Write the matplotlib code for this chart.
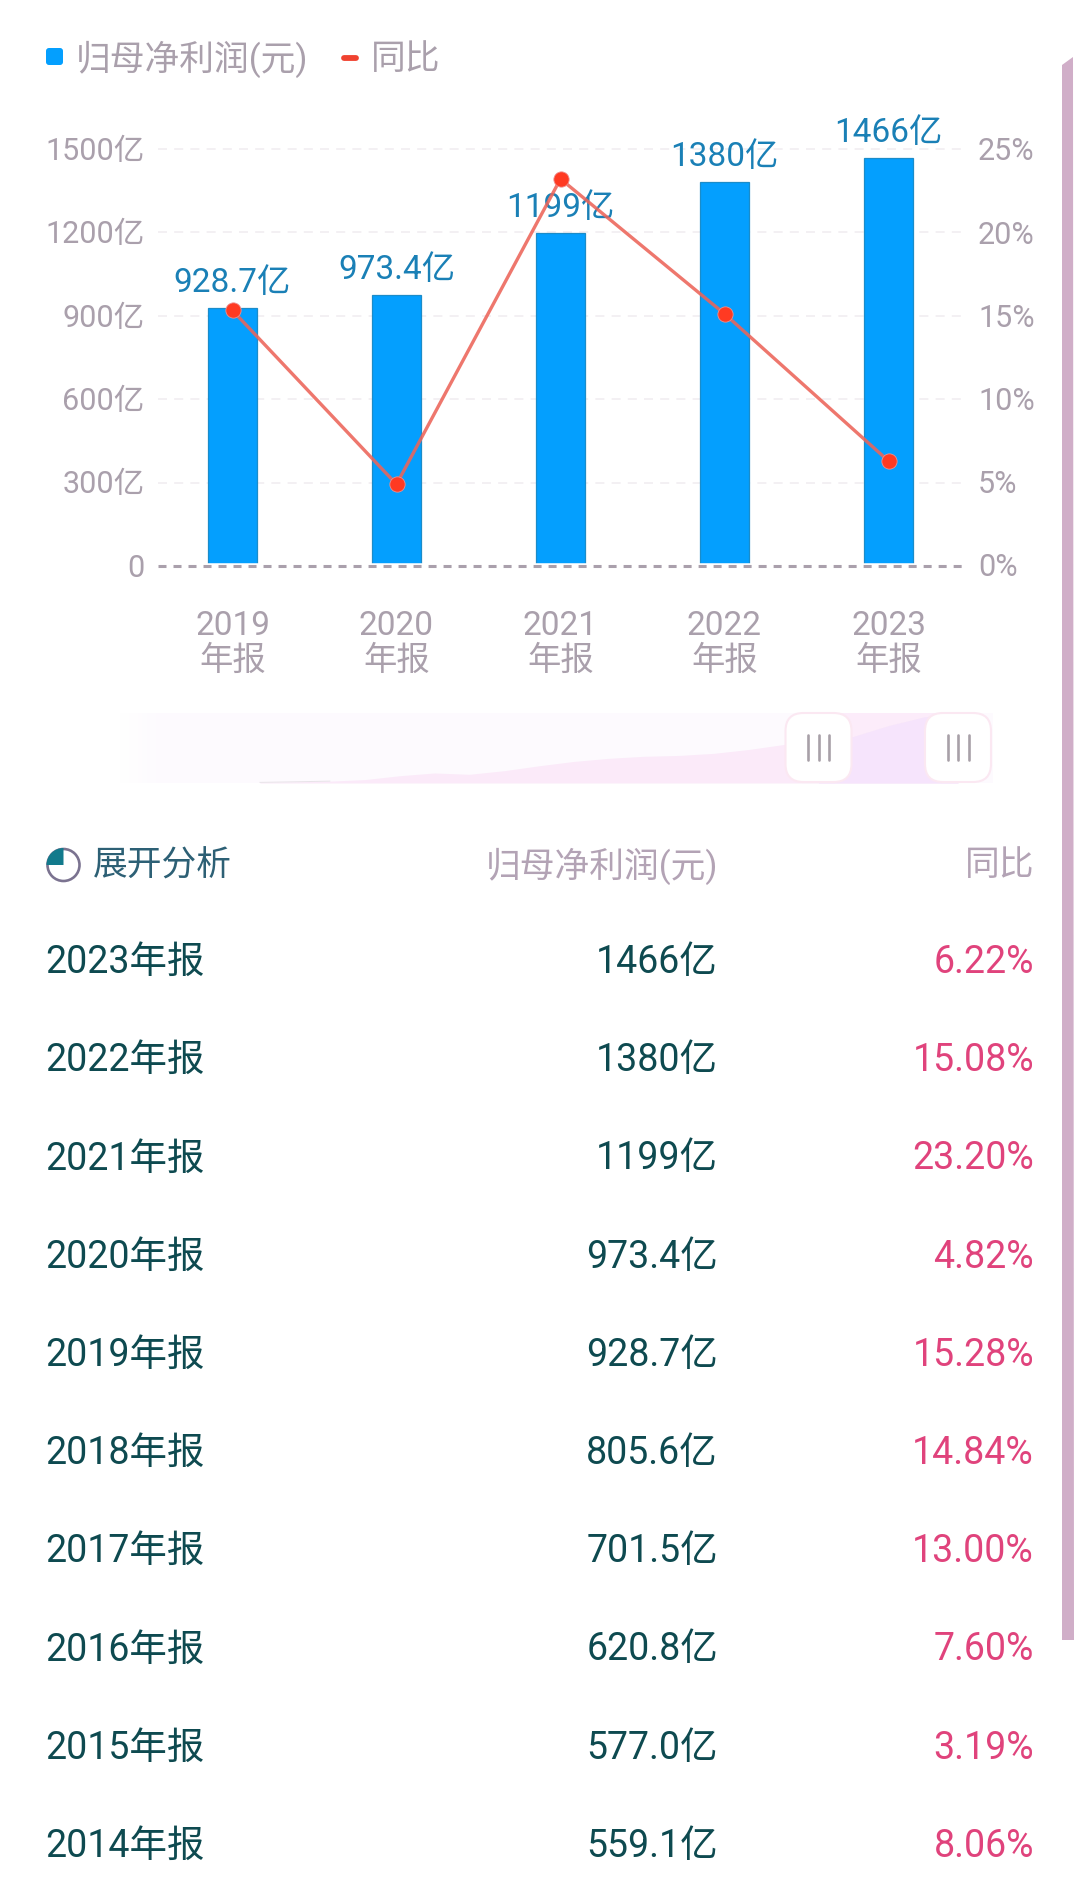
import numpy as np
import matplotlib
matplotlib.use("Agg")
import matplotlib.pyplot as plt
from matplotlib.patches import FancyBboxPatch, Polygon, Wedge, Circle
from matplotlib.transforms import ScaledTranslation

plt.rcParams['font.family'] = ['Roboto', 'Noto Sans CJK SC', 'DejaVu Sans']

# chart data
chart_years = ['2019', '2020', '2021', '2022', '2023']
profit = [928.7, 973.4, 1199, 1380, 1466]
profit_labels = ['928.7亿', '973.4亿', '1199亿', '1380亿', '1466亿']
yoy = [15.28, 4.82, 23.20, 15.08, 6.22]

left_ticks = [0, 300, 600, 900, 1200, 1500]
left_tick_labels = ['0', '300亿', '600亿', '900亿', '1200亿', '1500亿']
right_ticks = [0, 5, 10, 15, 20, 25]
right_tick_labels = ['0%', '5%', '10%', '15%', '20%', '25%']

# table data
table_years = ['2023年报', '2022年报', '2021年报', '2020年报', '2019年报',
               '2018年报', '2017年报', '2016年报', '2015年报', '2014年报']
table_profit = ['1466亿', '1380亿', '1199亿', '973.4亿', '928.7亿',
                '805.6亿', '701.5亿', '620.8亿', '577.0亿', '559.1亿']
table_yoy = ['6.22%', '15.08%', '23.20%', '4.82%', '15.28%',
             '14.84%', '13.00%', '7.60%', '3.19%', '8.06%']

# slider overview, the early years are estimated from the shape
slider_years = [2003, 2004, 2005, 2006, 2007, 2008, 2009, 2010, 2011, 2012, 2013,
                2014, 2015, 2016, 2017, 2018, 2019, 2020, 2021, 2022, 2023]
slider_values = [13, 25, 39, 71, 152, 210, 182, 258, 361, 452, 517,
                 559.1, 577.0, 620.8, 701.5, 805.6, 928.7, 973.4, 1199, 1380, 1466]

W, H = 1080, 1900
GREY = '#aaa0ac'
BLUE = '#049ffe'


def axes_px(fig, x0, y0, x1, y1):
    return fig.add_axes([x0 / W, 1 - y1 / H, (x1 - x0) / W, (y1 - y0) / H])


fig = plt.figure(figsize=(W / 100, H / 100), dpi=100, facecolor='white')

# ---- main chart ----
ax = axes_px(fig, 150.5, 149, 970.5, 566)
ax.set_zorder(1)
ax.patch.set_alpha(0)
x = np.arange(len(chart_years))
ax.set_xlim(-0.5, len(x) - 0.5)
ax.set_ylim(0, 1500)
for s in ax.spines.values():
    s.set_visible(False)

for t in left_ticks[1:]:
    ax.axhline(t, xmin=0.009, xmax=0.991, color='#f3f0f3', lw=1.44, ls=(0, (4.5, 3.6)),
               zorder=1, clip_on=False)
ax.bar(x, profit, width=0.298, color=BLUE, edgecolor='#1b8cc9', linewidth=0.9, zorder=2)
ax.axhline(0, color='white', lw=4, zorder=3, clip_on=False)
ax.axhline(0, xmin=0.009, xmax=0.991, color=GREY, lw=2.2, ls=(0, (2.62, 2.29)),
           zorder=4, clip_on=False)

ax.set_xticks(x)
ax.set_xticklabels([y + '\n年报' for y in chart_years], fontsize=24, color=GREY, linespacing=1.08)
ax.set_yticks(left_ticks)
ax.set_yticklabels(left_tick_labels, fontsize=22, color=GREY)
ax.tick_params(axis='x', length=0, pad=32)
ax.tick_params(axis='y', length=0, pad=4.5)
nudge = ScaledTranslation(0, 0.5 / 72, fig.dpi_scale_trans)
for lab in ax.get_yticklabels():
    lab.set_transform(lab.get_transform() + nudge)

for i in range(len(x)):
    ax.annotate(profit_labels[i], (x[i], profit[i]), xytext=(0, 18), textcoords='offset points',
                ha='center', va='center', fontsize=24, color='#1a80b6', zorder=5)

ax2 = ax.twinx()
ax2.set_zorder(2)
ax2.patch.set_alpha(0)
ax2.set_ylim(-0.1, 25)
for s in ax2.spines.values():
    s.set_visible(False)
ax2.set_yticks(right_ticks)
ax2.set_yticklabels(right_tick_labels, fontsize=22, color=GREY)
ax2.tick_params(axis='y', length=0, pad=5.4)
ax2.plot(x, yoy, color='#ec6459', lw=2.4, alpha=0.88, zorder=3)
ax2.plot(x, yoy, ls='none', marker='o', ms=11, mfc='#ff3a22', mec='#ee8f8f', mew=0.6, zorder=4)

# ---- slider ----
sl = axes_px(fig, 120, 713, 993, 783)
sl.set_zorder(1)
sl_xlim = (2023 - (958 - 120) / 34.9, 2023 + 35 / 34.9)
sl.set_xlim(*sl_xlim)
sl.set_ylim(0, 1466)
sl.set_facecolor('#fdfafe')
sl.set_xticks([])
sl.set_yticks([])
for s in sl.spines.values():
    s.set_visible(False)
sy = np.array(slider_years)
sv = np.array(slider_values)
sl.axvspan(2019, 2023, color='#fcecfa', lw=0)
sl.fill_between(sy, 0, sv, color='#fbeaf9', lw=0)
sl.fill_between(sy[sy >= 2019], 0, sv[sy >= 2019], color='#f6e4fc', lw=0)
sl.plot(sy[:3], sv[:3], color='#e8e3e8', lw=0.7)
# white fade on the left end of the slider
fade = np.ones((1, 64, 4))
fade[0, :, 3] = np.linspace(1, 0, 64)
sl.imshow(fade, extent=(sl_xlim[0], sl_xlim[0] + 45 / 34.9, 0, 1466), aspect='auto', zorder=5)
sl.set_xlim(*sl_xlim)
sl.set_ylim(0, 1466)

# ---- page overlay in pixels ----
page = fig.add_axes([0, 0, 1, 1])
page.set_zorder(5)
page.patch.set_alpha(0)
page.set_xlim(0, W)
page.set_ylim(H, 0)
page.axis('off')

# legend
page.add_patch(FancyBboxPatch((49, 51), 11, 11, boxstyle='round,pad=3,rounding_size=3',
                              fc=BLUE, ec='none'))
page.text(76, 59, '归母净利润(元)', fontsize=25, color=GREY, va='center', ha='left')
page.plot([344, 356], [58, 58], color='#f04230', lw=4.2, solid_capstyle='round')
page.text(371, 59, '同比', fontsize=25, color=GREY, va='center', ha='left')

# slider handles
for cx in [818.5, 958]:
    page.add_patch(FancyBboxPatch((cx - 15, 713 + 18), 30, 33,
                                  boxstyle='round,pad=18,rounding_size=18',
                                  fc='white', ec='#fbe8f2', lw=1.5))
    for dx in [-10.5, 0, 10.5]:
        page.plot([cx + dx, cx + dx], [735, 760], color='#a8a0a8', lw=1.9, solid_capstyle='round')

# table header
page.add_patch(Circle((63.5, 865), 16, fc='none', ec='#7b7390', lw=1.9))
page.add_patch(Wedge((63.5, 865), 17, 180, 270, fc='#127a8c', ec='none'))
page.text(93, 866, '展开分析', fontsize=25, color='#2d6075', va='center', ha='left')
page.text(718, 866, '归母净利润(元)', fontsize=25, color='#b3a3b5', va='center', ha='right')
page.text(1034, 866, '同比', fontsize=25, color='#b3a3b5', va='center', ha='right')

# table rows
row_y = 962.5
for i in range(len(table_years)):
    page.text(45, row_y, table_years[i], fontsize=27, color='#0e4a50', va='center', ha='left')
    page.text(718, row_y, table_profit[i], fontsize=27, color='#0e4a50', va='center', ha='right')
    page.text(1034, row_y, table_yoy[i], fontsize=27, color='#e0437c', va='center', ha='right')
    row_y += 98.2

# scroll bar
page.add_patch(Polygon([[1062, 65], [1073, 57], [1074, 1640], [1062, 1640]], closed=True,
                       fc='#d0aec8', ec='none'))

fig.savefig('out.png', dpi=100)
